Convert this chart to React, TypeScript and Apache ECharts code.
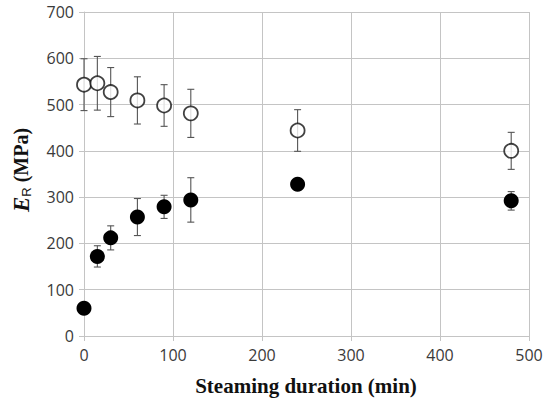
import React, { useEffect, useRef } from "react";
import * as echarts from "echarts";

const steamingTime = [0, 15, 30, 60, 90, 120, 240, 480];
const openValues = [543, 546, 527, 509, 498, 481, 444, 400];
const openErrors = [56, 58, 53, 51, 45, 52, 45, 40];
const filledValues = [60, 172, 212, 257, 279, 294, 328, 292];
const filledErrors = [5, 23, 26, 40, 25, 48, 12, 20];

const xTicks = [0, 100, 200, 300, 400, 500];
const yTicks = [0, 100, 200, 300, 400, 500, 600, 700];

const gridColor = "#c4c4c4";
const labelColor = "#3a3a3a";

function errorBarSeries(values: number[], errors: number[]) {
  const data = steamingTime.map((t, i) => [t, values[i] - errors[i], values[i] + errors[i]]);
  return {
    type: "custom",
    z: 1,
    silent: true,
    data,
    encode: { x: 0, y: [1, 2] },
    renderItem: (params: any, api: any) => {
      const x = api.value(0);
      const lo = api.coord([x, api.value(1)]);
      const hi = api.coord([x, api.value(2)]);
      const hw = 3.5;
      const style = { stroke: "#555555", lineWidth: 1.1 };
      return {
        type: "group",
        children: [
          { type: "line", shape: { x1: lo[0], y1: lo[1], x2: hi[0], y2: hi[1] }, style },
          { type: "line", shape: { x1: lo[0] - hw, y1: lo[1], x2: lo[0] + hw, y2: lo[1] }, style },
          { type: "line", shape: { x1: hi[0] - hw, y1: hi[1], x2: hi[0] + hw, y2: hi[1] }, style },
        ],
      };
    },
  };
}

export default function App() {
  const ref = useRef<HTMLDivElement>(null);
  useEffect(() => {
    if (!ref.current) return;
    const chart = echarts.init(ref.current, null, { renderer: "svg" });
    const gridLeft = 84;
    const gridRight = 19;
    const gridTop = 12;
    const gridBottom = 63;
    chart.setOption({
      animation: false,
      backgroundColor: "#ffffff",
      grid: { left: gridLeft, right: gridRight, top: gridTop, bottom: gridBottom },
      xAxis: {
        type: "value",
        min: xTicks[0],
        max: xTicks[xTicks.length - 1],
        interval: 100,
        axisLine: { show: true, lineStyle: { color: gridColor, width: 1 } },
        axisTick: { show: true, length: 5, lineStyle: { color: gridColor } },
        splitLine: { show: true, lineStyle: { color: gridColor, width: 1 } },
        axisLabel: { color: labelColor, fontFamily: "Open Sans", fontSize: 16, margin: 11 },
      },
      yAxis: {
        type: "value",
        min: yTicks[0],
        max: yTicks[yTicks.length - 1],
        interval: 100,
        axisLine: { show: true, lineStyle: { color: gridColor, width: 1 } },
        axisTick: { show: true, length: 5, lineStyle: { color: gridColor } },
        splitLine: { show: true, lineStyle: { color: gridColor, width: 1 } },
        axisLabel: { color: labelColor, fontFamily: "Open Sans", fontSize: 16, margin: 10 },
      },
      graphic: [
        {
          type: "text",
          x: 306,
          y: 386,
          style: {
            text: "Steaming duration (min)",
            font: "bold 21px 'Liberation Serif'",
            fill: "#111111",
            align: "center",
            verticalAlign: "middle",
          },
        },
        {
          type: "text",
          x: 21,
          y: 170,
          rotation: Math.PI / 2,
          style: {
            text: "{e|E}{r|R}{t| (MPa)}",
            align: "center",
            verticalAlign: "middle",
            fill: "#111111",
            rich: {
              e: { font: "italic bold 23px 'Liberation Serif'", fill: "#111111" },
              r: { font: "13px 'Liberation Sans'", fill: "#111111", padding: [10, 0, 0, 0] },
              t: { font: "bold 20px 'Liberation Serif'", fill: "#111111" },
            },
          },
        },
      ],
      series: [
        errorBarSeries(openValues, openErrors),
        errorBarSeries(filledValues, filledErrors),
        {
          type: "scatter",
          z: 3,
          data: steamingTime.map((t, i) => [t, openValues[i]]),
          symbol: "circle",
          symbolSize: 14,
          itemStyle: { color: "#ffffff", borderColor: "#111111", borderWidth: 1.8 },
        },
        {
          type: "scatter",
          z: 3,
          data: steamingTime.map((t, i) => [t, filledValues[i]]),
          symbol: "circle",
          symbolSize: 15,
          itemStyle: { color: "#000000", borderColor: "#000000", borderWidth: 0, opacity: 1 },
        },
      ],
    });
    return () => chart.dispose();
  }, []);
  return (
    <div
      ref={ref}
      style={{ position: "fixed", left: 0, top: 0, width: 548, height: 399 }}
    />
  );
}
